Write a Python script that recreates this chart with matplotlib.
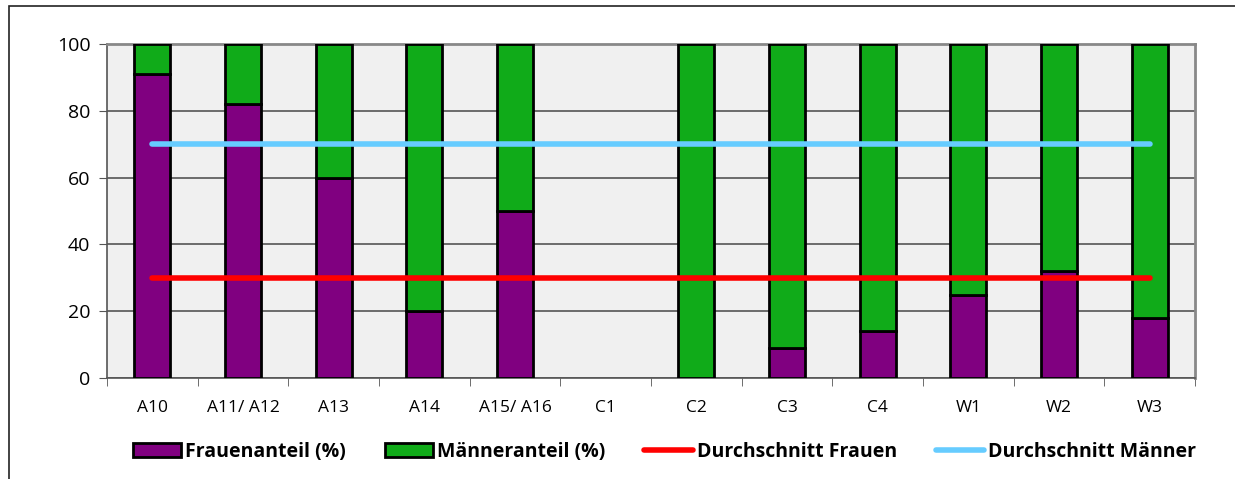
import matplotlib.pyplot as plt
import numpy as np
from matplotlib.patches import Patch, Rectangle
from matplotlib.lines import Line2D

plt.rcParams['font.family'] = ['Open Sans', 'DejaVu Sans']

# Daten
kategorien = ['A10', 'A11/ A12', 'A13', 'A14', 'A15/ A16', 'C1', 'C2', 'C3', 'C4', 'W1', 'W2', 'W3']
frauen = [91, 82, 60, 20, 50, 0, 0, 9, 14, 25, 32, 18]
maenner = [9, 18, 40, 80, 50, 0, 100, 91, 86, 75, 68, 82]
schnitt_frauen = 30
schnitt_maenner = 70

fig = plt.figure(figsize=(12.35, 4.79), dpi=100)
ax = fig.add_axes([107/1235, 1 - 378/479, (1195-107)/1235, (378-44)/479])

x = np.arange(len(kategorien))
# leere Balken ohne Rand zeichnen
lw_f = [2 if v > 0 else 0 for v in frauen]
lw_m = [2 if v > 0 else 0 for v in maenner]
ax.bar(x, frauen, width=0.4, color='#800080', edgecolor='black', linewidth=lw_f, zorder=3)
ax.bar(x, maenner, width=0.4, bottom=frauen, color='#10ab19', edgecolor='black', linewidth=lw_m, zorder=3)
ax.plot(x, [schnitt_frauen] * len(x), color='#ff0000', linewidth=4, solid_capstyle='round', zorder=4)
ax.plot(x, [schnitt_maenner] * len(x), color='#66ccff', linewidth=4, solid_capstyle='round', zorder=4)

ax.set_xlim(-0.5, len(x) - 0.5)
ax.set_ylim(0, 100)
ax.set_yticks(range(0, 101, 20))
ax.set_facecolor('#f0f0f0')
ax.grid(axis='y', color='#555555', linewidth=1.2, zorder=1)
ax.set_xticks(x)
ax.set_xticklabels(kategorien, fontsize=12.5)
ax.tick_params(axis='x', length=0, pad=16)
ax.set_xticks(np.arange(len(x) + 1) - 0.5, minor=True)
ax.tick_params(axis='x', which='minor', length=6, color='#555555')
ax.tick_params(axis='y', length=6, color='#555555', labelsize=14, pad=6)
for s in ['top', 'right']:
    ax.spines[s].set_color('#888888')
    ax.spines[s].set_linewidth(2)
for s in ['left', 'bottom']:
    ax.spines[s].set_color('#555555')
    ax.spines[s].set_linewidth(1.2)

handles = [
    Patch(facecolor='#800080', edgecolor='black', linewidth=2),
    Patch(facecolor='#10ab19', edgecolor='black', linewidth=2),
    Line2D([], [], color='#ff0000', linewidth=4, solid_capstyle='round'),
    Line2D([], [], color='#66ccff', linewidth=4, solid_capstyle='round'),
]
labels = ['Frauenanteil (%)', 'Männeranteil (%)', 'Durchschnitt Frauen', 'Durchschnitt Männer']
fig.legend(handles, labels, loc='center', bbox_to_anchor=(0.538, 1 - 452/479), ncol=4, frameon=False,
           prop={'weight': 'bold', 'size': 14}, handlelength=2.5, handletextpad=0.2, columnspacing=2.0)

fig.patches.append(Rectangle((9/1235, -0.1), 1.2, 1 - 6/479 + 0.1, transform=fig.transFigure,
                             fill=False, edgecolor='#222222', linewidth=1.2))

plt.savefig('out.png', dpi=100)
